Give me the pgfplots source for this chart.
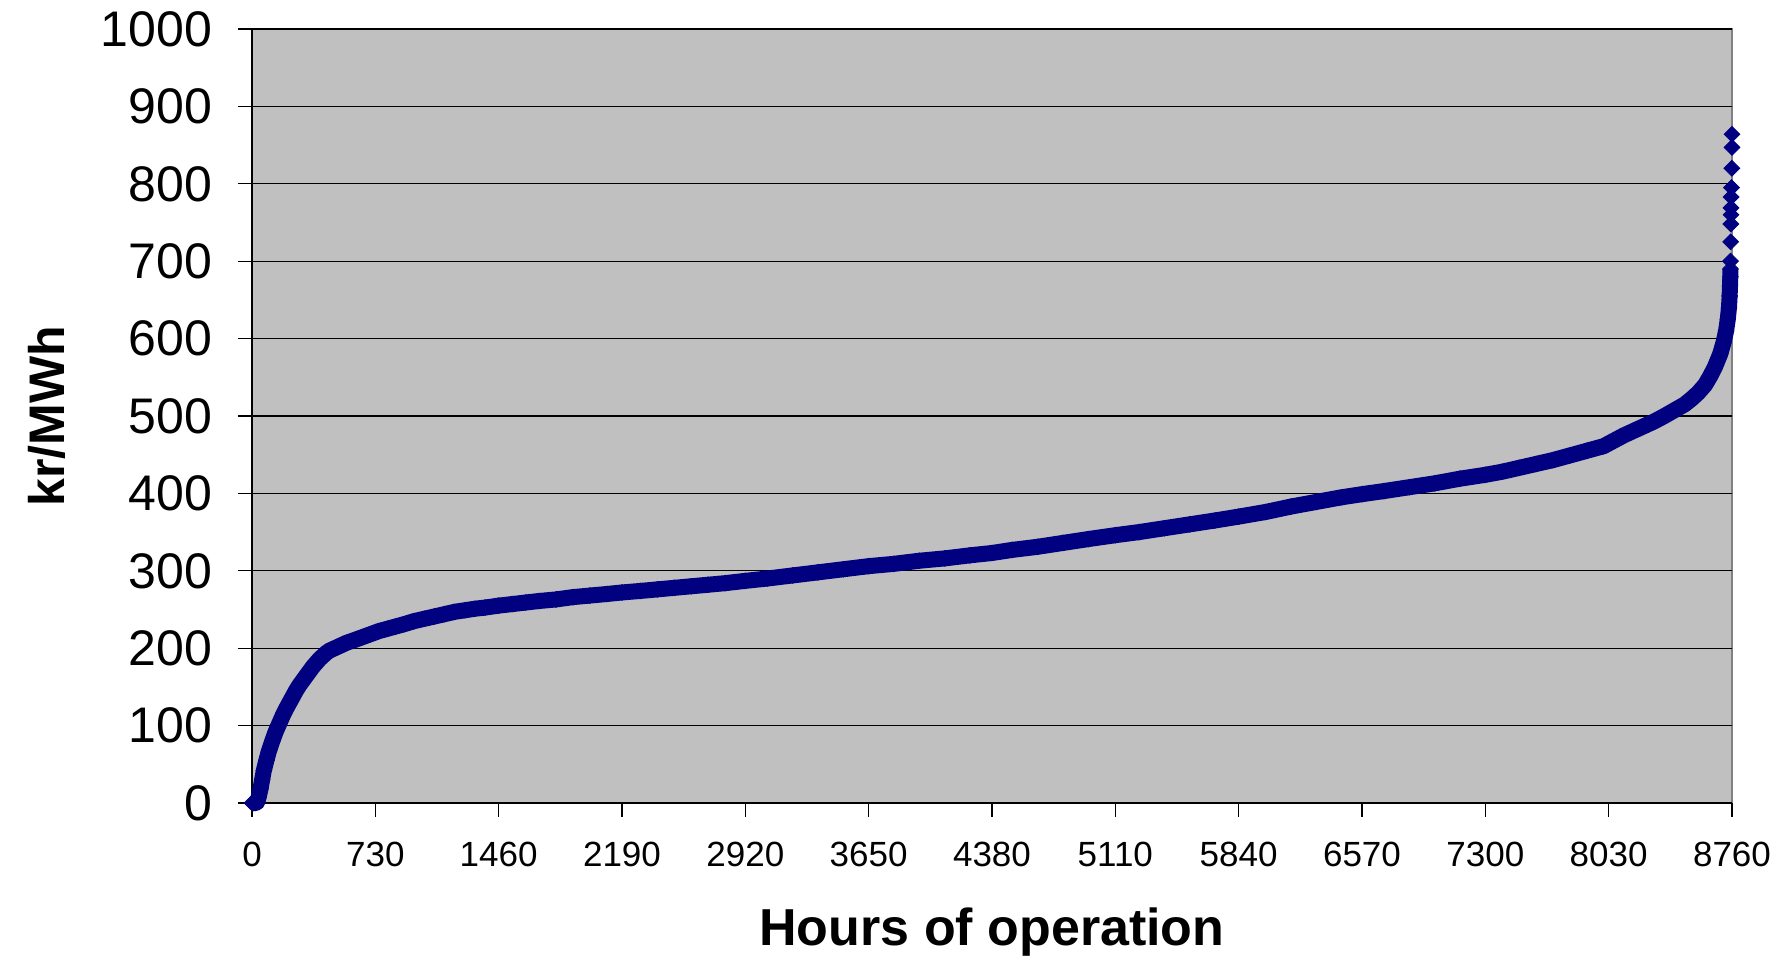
\documentclass[border=0pt]{standalone}
\usepackage{fontspec}
\setmainfont{Liberation Sans}
\usepackage{pgfplots}
\pgfplotsset{compat=1.18}
\definecolor{navy}{RGB}{0,0,128}
\definecolor{plotgray}{RGB}{192,192,192}
\definecolor{bordergray}{RGB}{128,128,128}

\pgfplotstableread{
h v
0 0
10 0
20 0
30 1
40 8
50 18
60 30
70 42
85 55
100 67
120 80
140 92
160 102
180 112
200 121
220 129
240 137
260 145
280 152
300 158
320 164
340 170
360 176
380 181
400 186
420 190
440 194
460 197
480 199
500 201
530 204
560 207
600 210
650 214
700 218
750 222
800 225
850 228
900 231
960 235
1020 238
1080 241
1140 244
1200 247
1260 249
1320 251
1380 252.5
1460 255
1540 257
1620 259
1700 261
1800 263
1900 266
2000 268
2100 270
2190 272
2300 274
2400 276
2500 278
2600 280
2700 282
2800 284
2920 287
3050 290
3200 294
3350 298
3500 302
3650 306
3800 309
3950 313
4100 316
4250 320
4380 323
4500 327
4650 331
4800 336
4950 341
5110 346
5250 350
5400 355
5550 360
5700 365
5840 370
6000 376
6150 383
6300 389
6450 395
6570 399
6700 403
6850 408
7000 413
7150 419
7300 424
7400 428
7500 433
7600 438
7700 443
7800 449
7900 455
8000 461
8060 468
8120 475
8180 481
8240 487
8300 493
8360 500
8400 505
8440 510
8480 515
8520 522
8560 530
8600 540
8630 551
8660 564
8690 580
8710 595
8725 610
8735 625
8742 640
8746 655
8748 668
8750 680
8751 690
}\bandtable

\pgfplotstableread{
h v
8751 700
8752 725
8753 748
8754 760
8754 769
8755 783
8757 795
8759 820
8760 847
8760 864
}\toptable

\begin{document}
\begin{tikzpicture}
\useasboundingbox (-126pt,-77pt) rectangle (770pt,401.5pt);
\begin{axis}[
  scale only axis, width=740pt, height=387pt,
  xmin=0, xmax=8760, ymin=0, ymax=1000,
  xtick={0,730,...,8760}, ytick={0,100,...,1000},
  axis x line*=bottom, axis y line*=left,
  axis line style={black, line width=0.8pt},
  axis background/.style={fill=plotgray, draw=bordergray, line width=1pt},
  ymajorgrids, grid style={black, line width=0.6pt},
  tick align=outside,
  major tick length=7pt,
  tick style={black, line width=0.6pt},
  /pgf/number format/assume math mode=true,
  /pgf/number format/set thousands separator={},
  yticklabel style={font=\fontsize{25}{30}\selectfont, xshift=-9.5pt},
  xticklabel style={font=\fontsize{17.5}{21}\selectfont, yshift=-9pt},
  xlabel={Hours of operation}, ylabel={kr/MWh},
  xlabel style={font=\fontsize{26}{31}\selectfont\bfseries, at={(axis description cs:0.5,-0.1835)}, anchor=base},
  ylabel style={font=\fontsize{25}{30}\selectfont\bfseries, at={(axis description cs:-0.127,0.5)}, anchor=base},
  clip=false,
]
\addplot[navy, line width=8pt, line join=round, mark=square*, mark size=2.8pt,
  mark options={rotate=45, fill=navy, draw=navy, line width=0.4pt, solid}]
  table[x=h, y=v] {\bandtable};
\addplot[only marks, mark=square*, mark size=2.8pt,
  mark options={rotate=45, fill=navy, draw=navy, line width=0.4pt}]
  table[x=h, y=v] {\toptable};
\end{axis}
\end{tikzpicture}
\end{document}
